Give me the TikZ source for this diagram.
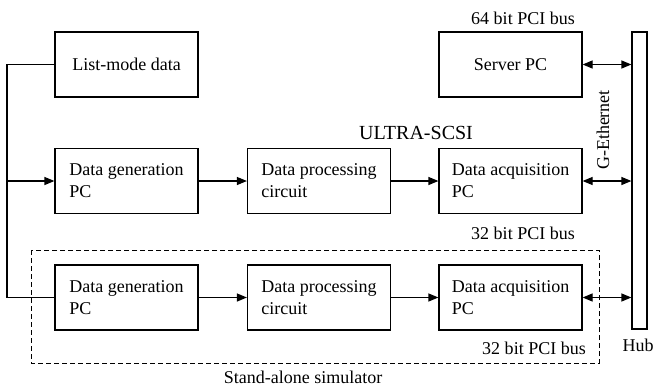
\documentclass[tikz,border=0pt]{standalone}
\usepackage{fontspec}
\setmainfont{Liberation Serif}
\usetikzlibrary{arrows.meta}
\begin{document}
\begin{tikzpicture}[x=1pt, y=-1pt, >={Triangle[length=10pt,width=8pt]}, line width=1.2pt,
	every node/.style={font=\fontsize{18}{22}\selectfont},
	blk/.style={draw, minimum width=143pt, minimum height=65pt, align=left, inner sep=0pt},
	lbl/.style={inner sep=0pt}]
	\useasboundingbox (0,0) rectangle (655,388);
	% 1. 各模块
	\node[blk] (list) at (126.5,64.5) {List-mode data};
	\node[blk] (server) at (510.5,64.5) {Server PC};
	\node[blk] (gen1) at (126.5,181) {Data generation\\PC};
	\node[blk] (proc1) at (319,181) {Data processing\\circuit};
	\node[blk] (acq1) at (510.5,181) {Data acquisition\\PC};
	\node[blk] (gen2) at (126.5,297.5) {Data generation\\PC};
	\node[blk] (proc2) at (319,297.5) {Data processing\\circuit};
	\node[blk] (acq2) at (510.5,297.5) {Data acquisition\\PC};
	\node[draw, minimum width=15pt, minimum height=297pt, inner sep=0pt] (hub) at (639.5,180.5) {};
	
	% 2. 虚线框 (独立仿真器)
	\draw[dash pattern=on 5pt off 3pt, line width=1pt] (31,250) rectangle (599,363);
	
	% 3. 连线与箭头
	\coordinate (bend) at (7,181);
	\draw (list.west) -- (list.west -| bend) |- (gen2.west);
	\draw[->] (bend) -- (gen1.west);
	\draw[->] (gen1) -- (proc1);
	\draw[->] (proc1) -- (acq1);
	\draw[->] (gen2) -- (proc2);
	\draw[->] (proc2) -- (acq2);
	\draw[<->] (server.east) -- (server.east -| hub.west);
	\draw[<->] (acq1.east) -- (acq1.east -| hub.west);
	\draw[<->] (acq2.east) -- (acq2.east -| hub.west);
	
	% 4. 文字标注
	\node[lbl] (bus64) at (523,18) {64 bit PCI bus};
	\node[lbl, font=\fontsize{20}{24}\selectfont] (scsi) at (416,133) {ULTRA-SCSI};
	\node[lbl, rotate=90] (geth) at (603,130) {G-Ethernet};
	\node[lbl] (bus32a) at (523,233) {32 bit PCI bus};
	\node[lbl] (bus32b) at (534,348) {32 bit PCI bus};
	\node[lbl, anchor=west] (hubl) at (622,345) {Hub};
	\node[lbl] (sim) at (303,377) {Stand-alone simulator};
\end{tikzpicture}
\end{document}
